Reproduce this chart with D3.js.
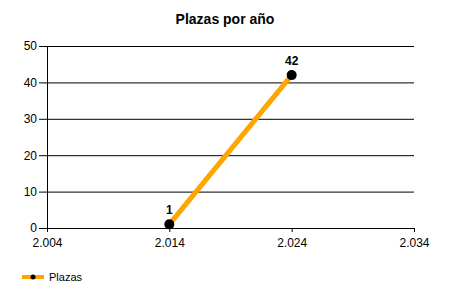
<!DOCTYPE html>
<html>
<head>
<meta charset="utf-8">
<script src="https://cdn.jsdelivr.net/npm/d3@7"></script>
<style>
  body { margin: 0; background: #fff; }
  text { font-family: "Liberation Sans", Arial, sans-serif; }
</style>
</head>
<body>
<svg id="chart" width="450" height="300"></svg>
<script>
const years = [2014, 2024]
const plazas = [1, 42]
const xTicks = [2004, 2014, 2024, 2034]
const yTicks = [0, 10, 20, 30, 40, 50]
const seriesName = 'Plazas'
const chartTitle = 'Plazas por año'

const svg = d3.select('#chart')
const margin = {left: 47, right: 36, top: 46, bottom: 72}
const width = 450 - margin.left - margin.right
const height = 300 - margin.top - margin.bottom

// number format with dot as thousands separator, eg 2.014
const fmtYear = d => String(d).replace(/(\d)(\d{3})$/, '$1.$2')

const x = d3.scaleLinear().domain([2004, 2034]).range([margin.left, margin.left + width])
const y = d3.scaleLinear().domain([0, 50]).range([margin.top + height, margin.top])

svg.append('rect').attr('width', 450).attr('height', 300).attr('fill', '#fff')

// title
svg.append('text')
  .attr('x', 225)
  .attr('y', 24)
  .attr('text-anchor', 'middle')
  .attr('font-size', 14)
  .attr('font-weight', 'bold')
  .text(chartTitle)

// horizontal grid
svg.append('g')
  .attr('transform', `translate(${margin.left},0)`)
  .call(d3.axisLeft(y).tickValues(yTicks).tickSize(-width).tickFormat(''))
  .call(g => g.select('.domain').remove())
  .selectAll('line').attr('stroke', '#000')

// y axis
const yAxis = svg.append('g')
  .attr('transform', `translate(${margin.left},0)`)
  .call(d3.axisLeft(y).tickValues(yTicks).tickSize(8).tickSizeOuter(0).tickPadding(2))
yAxis.select('.domain').attr('stroke', '#000')
yAxis.selectAll('text').attr('font-size', 12).attr('fill', '#000')
  .attr('font-family', '"Liberation Sans", Arial, sans-serif')

// x axis
const xAxis = svg.append('g')
  .attr('transform', `translate(0,${margin.top + height})`)
  .call(d3.axisBottom(x).tickValues(xTicks).tickFormat(fmtYear).tickSize(4).tickSizeOuter(0).tickPadding(6))
xAxis.select('.domain').attr('stroke', '#000')
xAxis.selectAll('text').attr('font-size', 12).attr('fill', '#000')
  .attr('font-family', '"Liberation Sans", Arial, sans-serif')

// series
const points = years.map((yr, i) => ({year: yr, value: plazas[i]}))

svg.append('path')
  .datum(points)
  .attr('fill', 'none')
  .attr('stroke', '#FFA500')
  .attr('stroke-width', 5)
  .attr('d', d3.line().x(d => x(d.year)).y(d => y(d.value)))

svg.append('g')
  .selectAll('circle')
  .data(points)
  .join('circle')
  .attr('cx', d => x(d.year))
  .attr('cy', d => y(d.value))
  .attr('r', 5)
  .attr('fill', '#000')

svg.append('g')
  .selectAll('text')
  .data(points)
  .join('text')
  .attr('x', d => x(d.year))
  .attr('y', d => y(d.value) - 10)
  .attr('text-anchor', 'middle')
  .attr('font-size', 12)
  .attr('font-weight', 'bold')
  .text(d => d.value)

// legend
const legend = svg.append('g').attr('transform', 'translate(22,277)')
legend.append('line').attr('x1', 0).attr('x2', 22).attr('stroke', '#FFA500').attr('stroke-width', 4)
legend.append('circle').attr('cx', 11).attr('r', 2.5).attr('fill', '#000')
legend.append('text')
  .attr('x', 27)
  .attr('y', 4)
  .attr('font-size', 11)
  .text(seriesName)
</script>
</body>
</html>
